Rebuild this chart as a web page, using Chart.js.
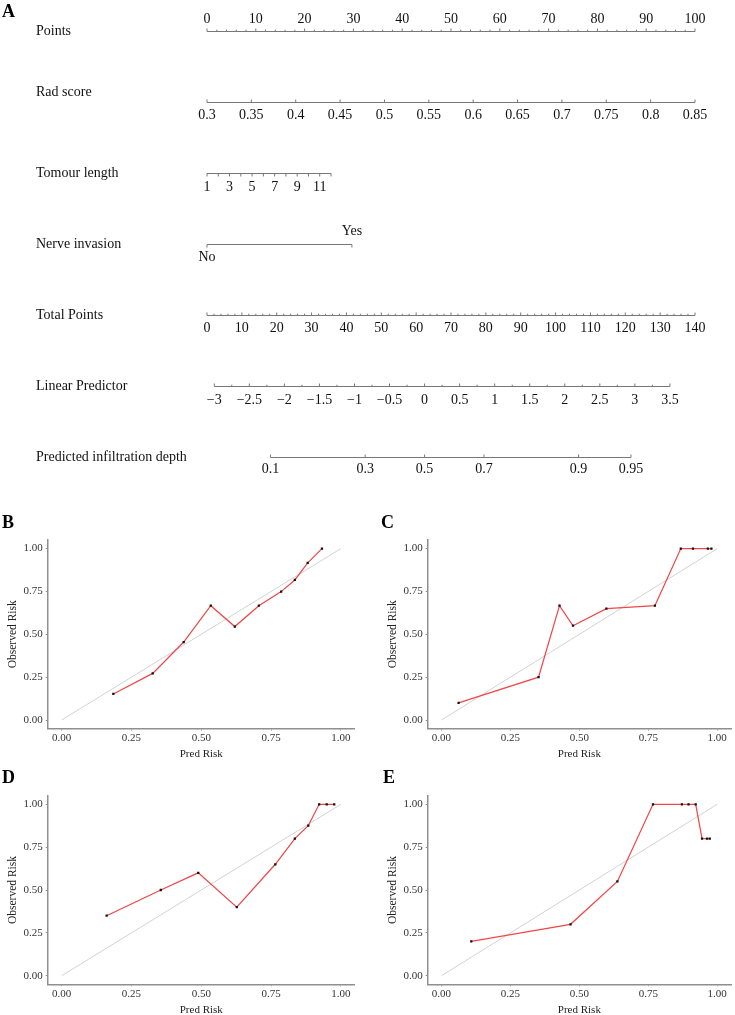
<!DOCTYPE html>
<html>
<head>
<meta charset="utf-8">
<script src="https://cdn.jsdelivr.net/npm/chart.js@4.4.1/dist/chart.umd.min.js"></script>
<style>
  html, body { margin: 0; padding: 0; background: #fff; overflow: hidden; }
  body { width: 735px; height: 1015px; position: relative; }
  canvas { position: absolute; }
</style>
</head>
<body>
<canvas id="nomo" width="735" height="495" style="left:0;top:0"></canvas>
<canvas id="calB" width="367" height="260" style="left:0;top:505px"></canvas>
<canvas id="calC" width="355" height="260" style="left:380px;top:505px"></canvas>
<canvas id="calD" width="367" height="260" style="left:0;top:760px"></canvas>
<canvas id="calE" width="355" height="260" style="left:380px;top:760px"></canvas>
<script>
// ---- nomogram (panel A) ----
const rowNames = ["Points", "Rad score", "Tomour length", "Nerve invasion", "Total Points", "Linear Predictor", "Predicted infiltration depth"];
const pointsTicks = [0, 10, 20, 30, 40, 50, 60, 70, 80, 90, 100];
const radScoreTicks = [0.3, 0.35, 0.4, 0.45, 0.5, 0.55, 0.6, 0.65, 0.7, 0.75, 0.8, 0.85];
const tumourLengthTicks = [1, 2, 3, 4, 5, 6, 7, 8, 9, 10, 11, 12];
const tumourLengthLabels = [1, 3, 5, 7, 9, 11];
const nerveLevels = ["No", "Yes"];
const nervePoints = [0, 29.7];
const totalPointsTicks = [0, 10, 20, 30, 40, 50, 60, 70, 80, 90, 100, 110, 120, 130, 140];
const linearPredictorTicks = [-3, -2.5, -2, -1.5, -1, -0.5, 0, 0.5, 1, 1.5, 2, 2.5, 3, 3.5];
const probabilityTicks = [0.1, 0.3, 0.5, 0.7, 0.9, 0.95];

// ---- calibration curves (panels B-E) ----
const riskTicks = [0, 0.25, 0.5, 0.75, 1];
const diagX = [0, 1];
const diagY = [0, 1];
const predB = [0.185, 0.326, 0.437, 0.534, 0.620, 0.706, 0.786, 0.835, 0.881, 0.932];
const obsB  = [0.152, 0.272, 0.455, 0.667, 0.545, 0.667, 0.749, 0.817, 0.917, 1.0];
const predC = [0.062, 0.352, 0.428, 0.477, 0.598, 0.774, 0.868, 0.912, 0.966, 0.979];
const obsC  = [0.10, 0.25, 0.667, 0.55, 0.65, 0.667, 1, 1, 1, 1];
const predD = [0.161, 0.355, 0.489, 0.627, 0.765, 0.835, 0.883, 0.922, 0.949, 0.976];
const obsD  = [0.35, 0.50, 0.60, 0.40, 0.65, 0.80, 0.875, 1, 1, 1];
const predE = [0.108, 0.468, 0.638, 0.767, 0.872, 0.896, 0.922, 0.945, 0.963, 0.973];
const obsE  = [0.20, 0.30, 0.55, 1, 1, 1, 1, 0.80, 0.80, 0.80];

const serif = "'Liberation Serif', 'Times New Roman', serif";
Chart.defaults.font.family = serif;
Chart.defaults.color = '#333';
Chart.defaults.animation = false;

// model scaling
const radToPts = r => (r - 0.3) * 100 / 0.55;
const lenToPts = l => (l - 1) * 2.31;
const totalToAxis = t => t * 100 / 140;
const lpToAxis = lp => totalToAxis(2.09 + (lp + 3) * 20.11);
const probToAxis = p => lpToAxis(Math.log(p / (1 - p)));
const fmtMinus = v => String(v).replace('-', '\u2212');

function steps(from, to, by, skip) {
  const out = [];
  for (let v = from; v <= to + 1e-9; v += by) {
    if (!skip(v)) out.push(v);
  }
  return out;
}

const nomoRows = [
  { marks: pointsTicks.map(v => ({ p: v, text: String(v) })),
    minor: steps(0, 100, 2, v => v % 10 === 0),
    dir: -1, labelDy: -12, nameDy: 0 },
  { marks: radScoreTicks.map(v => ({ p: radToPts(v), text: String(v) })),
    minor: [], dir: -1, labelDy: 13, nameDy: -10 },
  { marks: tumourLengthTicks.map(v => ({ p: lenToPts(v), text: tumourLengthLabels.includes(v) ? String(v) : '' })),
    minor: [], dir: 1, labelDy: 14, nameDy: 0 },
  { marks: nerveLevels.map((t, i) => ({ p: nervePoints[i], text: t, dy: i === 0 ? 13 : -13 })),
    minor: [], dir: 1, labelDy: 13, nameDy: 0 },
  { marks: totalPointsTicks.map(v => ({ p: totalToAxis(v), text: String(v) })),
    minor: steps(0, 140, 2, v => v % 10 === 0).map(totalToAxis),
    dir: -1, labelDy: 13, nameDy: 0 },
  { marks: linearPredictorTicks.map(v => ({ p: lpToAxis(v), text: fmtMinus(v) })),
    minor: linearPredictorTicks.slice(0, -1).map(v => lpToAxis(v + 0.25)),
    dir: -1, labelDy: 14, nameDy: 0 },
  { marks: probabilityTicks.map(v => ({ p: probToAxis(v), text: String(v) })),
    minor: [], dir: -1, labelDy: 12, nameDy: 0 }
];

const nomogramAxes = {
  id: 'nomogramAxes',
  afterDraw(chart) {
    const { ctx, scales: { x, y } } = chart;
    ctx.save();
    ctx.fillStyle = '#000';
    ctx.font = 'bold 18px ' + serif;
    ctx.textAlign = 'left';
    ctx.textBaseline = 'alphabetic';
    ctx.fillText('A', 2, 17);

    ctx.font = '14px ' + serif;
    nomoRows.forEach((row, i) => {
      const py = Math.round(y.getPixelForValue(i)) + 0.5;
      ctx.fillStyle = '#111';
      ctx.textAlign = 'left';
      ctx.textBaseline = 'middle';
      ctx.fillText(rowNames[i], 36, py + row.nameDy);

      const xs = row.marks.map(m => x.getPixelForValue(m.p));
      ctx.strokeStyle = '#777';
      ctx.lineWidth = 1;
      ctx.beginPath();
      ctx.moveTo(Math.min(...xs), py);
      ctx.lineTo(Math.max(...xs), py);
      row.marks.forEach((m, k) => {
        ctx.moveTo(xs[k], py);
        ctx.lineTo(xs[k], py + row.dir * 3);
      });
      row.minor.forEach(p => {
        const mx = x.getPixelForValue(p);
        ctx.moveTo(mx, py);
        ctx.lineTo(mx, py + row.dir * 1.8);
      });
      ctx.stroke();

      ctx.textAlign = 'center';
      row.marks.forEach((m, k) => {
        if (m.text) ctx.fillText(m.text, xs[k], py + (m.dy !== undefined ? m.dy : row.labelDy));
      });
    });
    ctx.restore();
  }
};

new Chart(document.getElementById('nomo'), {
  type: 'scatter',
  data: { datasets: [] },
  options: {
    responsive: false,
    layout: { padding: { left: 207, right: 40, top: 31, bottom: 38 } },
    plugins: { legend: { display: false }, tooltip: { enabled: false } },
    scales: {
      x: { type: 'linear', min: 0, max: 100, display: false },
      y: { type: 'linear', min: 0, max: 6, reverse: true, display: false }
    }
  },
  plugins: [nomogramAxes]
});

// ---- calibration plots ----
const panelTag = {
  id: 'panelTag',
  afterDraw(chart, args, opts) {
    const { ctx } = chart;
    ctx.save();
    ctx.fillStyle = '#000';
    ctx.font = 'bold 18px ' + serif;
    ctx.textAlign = 'left';
    ctx.textBaseline = 'alphabetic';
    ctx.fillText(opts.text, opts.x, 23);
    ctx.restore();
  }
};

const axisGray = '#8f8f8f';

function calibration(id, tag, tagX, pred, obs, padTop, padBottom, padRight) {
  new Chart(document.getElementById(id), {
    type: 'scatter',
    data: {
      datasets: [
        {
          data: pred.map((v, i) => ({ x: v, y: obs[i] })),
          showLine: true,
          borderColor: '#f04848',
          borderWidth: 1.25,
          pointStyle: 'rect',
          pointRadius: 1.6,
          pointBackgroundColor: '#111',
          pointBorderWidth: 0,
          order: 0
        },
        {
          data: diagX.map((v, i) => ({ x: v, y: diagY[i] })),
          showLine: true,
          borderColor: '#d2d2d2',
          borderWidth: 1,
          pointRadius: 0,
          order: 1
        }
      ]
    },
    options: {
      responsive: false,
      layout: { padding: { top: padTop, bottom: padBottom, left: 0, right: padRight } },
      plugins: {
        legend: { display: false },
        tooltip: { enabled: false },
        panelTag: { text: tag, x: tagX }
      },
      scales: {
        x: {
          type: 'linear', min: -0.05, max: 1.05,
          afterBuildTicks: s => { s.ticks = riskTicks.map(v => ({ value: v })); },
          afterFit: s => { s.height = 32; },
          ticks: { callback: v => v.toFixed(2), font: { size: 11 }, color: '#333', padding: 1, maxRotation: 0 },
          grid: { drawOnChartArea: false, tickLength: 2, tickColor: axisGray },
          border: { color: axisGray, width: 1.5 },
          title: { display: true, text: 'Pred Risk', color: '#222', font: { size: 11 }, padding: 0 }
        },
        y: {
          type: 'linear', min: -0.05, max: 1.05,
          afterBuildTicks: s => { s.ticks = riskTicks.map(v => ({ value: v })); },
          afterFit: s => { s.width = 47.7; },
          ticks: { callback: v => v.toFixed(2), font: { size: 11 }, color: '#333', padding: 3 },
          grid: { drawOnChartArea: false, tickLength: 2, tickColor: axisGray },
          border: { color: axisGray, width: 1.5 },
          title: { display: true, text: 'Observed Risk', color: '#222', font: { size: 11.5 }, padding: { top: 6.2, bottom: 0 } }
        }
      }
    },
    plugins: [panelTag]
  });
}

calibration('calB', 'B', 2, predB, obsB, 35, 4.4, 12.1);
calibration('calC', 'C', 1, predC, obsC, 35, 4.4, 0);
calibration('calD', 'D', 2, predD, obsD, 35.7, 3.7, 12.1);
calibration('calE', 'E', 3, predE, obsE, 35.7, 3.7, 0);
</script>
</body>
</html>
